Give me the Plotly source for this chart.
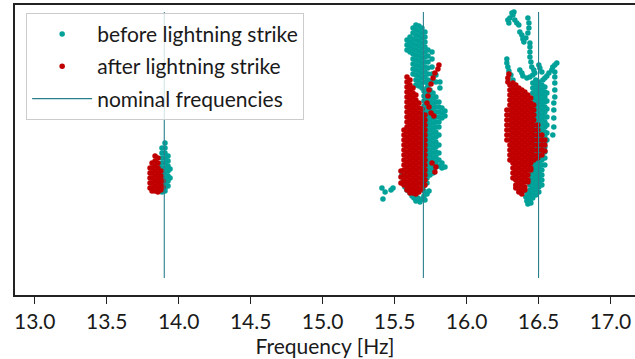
import plotly.graph_objects as go

# ---------------- data ----------------
# Frequencies in Hz, y in arbitrary units (axis hidden in the original)
nominal_freqs = [13.9, 15.7, 16.5]
nominal_y_span = [8.5, 141.5]

# "before lightning strike" columns: (frequency, [y values])
before_139_cols = [
    (13.864, [64, 60, 56.5, 53]),
    (13.884, [73.5, 71, 68.5, 66, 63.5, 61, 58.5, 56, 53.5, 51.5]),
    (13.905, [76, 73.5, 71, 68.5, 66, 63.5, 61, 58.5, 56, 53.5, 52]),
    (13.926, [69.5, 67, 64.5, 62, 59.5, 57, 54.5]),
    (13.940, [63, 58.5]),
]
before_157_cols = [
    (15.586, [127.5, 125, 122.5]),
    (15.607, [129, 126.5, 124, 121.5]),
    (15.628, [133.5, 131, 128, 125.5, 123, 120.5, 118, 115.5, 113, 110.5]),
    (15.648, [135, 132.5, 130, 127.5, 125, 122.5, 120, 117.5, 115, 112.5, 110, 107.5, 105]),
    (15.669, [134.5, 132, 129.5, 127, 124.5, 122, 119.5, 117, 114.5, 112, 109.5, 107, 104.5]),
    (15.690, [133.5, 131, 128.5, 126, 123.5, 121, 118.5, 116, 113.5, 111, 108.5, 106, 103.5]),
    (15.711, [131.5, 129, 126.5, 124, 121.5, 119, 116.5, 114, 111.5, 109, 106.5]),
    (15.732, [122.5, 119.5, 116.5, 113.5, 110.5, 107.5, 105]),
    (15.760, [121.5, 118, 114, 110.5, 107]),
    (15.787, [110, 106.5]),
    (15.815, [106.5, 103.5]),
    (15.704, [102, 99.5, 97, 94.5, 92, 89.5, 87, 84.5, 82, 79.5, 77, 74.5, 72, 69.5, 67, 64.5,
              62, 59.5, 57, 54.5, 52, 49.5]),
    (15.725, [103.5, 101, 98.5, 96, 93.5, 91, 88.5, 86, 83.5, 81, 78.5, 76, 73.5, 71, 68.5, 66,
              63.5, 61, 58.5, 56]),
    (15.746, [102.5, 100, 97.5, 95, 92.5, 90, 87.5, 85, 82.5, 80, 77.5, 75, 72.5, 70, 67.5, 65,
              62.5, 60]),
    (15.767, [101, 98.5, 96, 93.5, 91, 88.5, 86, 83.5, 81, 78.5, 76, 73.5, 71, 68.5, 66, 63.5, 61]),
    (15.787, [99, 96.5, 94, 91.5, 89, 86.5, 84, 81.5, 79, 76.5, 74, 71.5, 69, 66.5, 64]),
    (15.808, [96.5, 94, 91.5, 89, 86.5, 84, 80, 75, 71, 67.5, 64.5]),
    (15.829, [93.5, 91, 88.5, 66, 63.5]),
    (15.850, [92, 89.5, 64]),
]
before_157_pts = [
    (15.551, 60), (15.558, 56.5), (15.572, 54), (15.586, 52.5), (15.600, 55), (15.607, 51),
    (15.621, 49.5), (15.635, 48.5), (15.648, 47), (15.662, 48.5), (15.676, 46.5), (15.690, 48),
    (15.711, 47.5), (15.725, 50.5), (15.739, 52),
    (15.412, 53.5), (15.434, 51.5), (15.475, 52.5), (15.489, 53.5), (15.419, 48),
]
before_165_cols = [
    (16.440, [72.5, 70, 67.5, 65, 62.5, 60, 57.5, 55, 52.5, 50, 47.5]),
    (16.460, [106, 103.5, 101, 98.5, 96, 93.5, 91, 88.5, 86, 83.5, 81, 78.5, 76, 73.5, 71, 68.5,
              66, 63.5, 61, 58.5, 56, 53.5, 51, 48.5]),
    (16.481, [107.5, 105, 102.5, 100, 97.5, 95, 92.5, 90, 87.5, 85, 82.5, 80, 77.5, 75, 72.5, 70,
              67.5, 65, 62.5, 60, 57.5, 55, 52.5, 50]),
    (16.502, [106.5, 104, 101.5, 99, 96.5, 94, 91.5, 89, 86.5, 84, 81.5, 79, 76.5, 74, 71.5, 69,
              66.5, 64, 61.5, 59, 56.5, 54, 51.5]),
    (16.523, [105, 102.5, 100, 97.5, 95, 92.5, 90, 87.5, 85, 82.5, 80, 77.5, 75, 72.5, 70, 67.5,
              65, 62.5, 60, 57.5, 55]),
    (16.544, [104, 101.5, 99, 96.5, 94, 91.5, 89, 86.5, 84, 81.5, 79, 76.5, 74, 71.5, 68.5, 65]),
    (16.558, [101, 97, 93, 89, 85, 81, 77.5]),
]
before_165_pts = [
    (16.301, 138.5), (16.315, 141), (16.329, 141.5), (16.322, 140), (16.287, 137.5),
    (16.294, 136), (16.335, 137.5), (16.349, 136), (16.363, 135), (16.370, 131.5),
    (16.384, 130), (16.391, 128), (16.398, 126.5), (16.412, 128.5), (16.426, 131),
    (16.433, 133.5), (16.433, 136), (16.426, 138.5), (16.440, 126), (16.440, 124),
    (16.440, 121.5), (16.440, 119), (16.447, 116.5), (16.453, 114), (16.467, 112.5),
    (16.474, 111),
    (16.280, 118), (16.280, 116), (16.287, 114), (16.294, 112), (16.308, 110), (16.322, 107.5),
    (16.370, 112.5), (16.384, 111), (16.391, 109.5), (16.419, 108.5), (16.440, 109), (16.460, 110),
    (16.627, 116), (16.613, 115), (16.599, 114), (16.592, 112.5), (16.572, 111), (16.558, 109.5),
    (16.544, 108.5), (16.530, 107.5), (16.613, 111.5), (16.613, 109), (16.613, 106),
    (16.613, 102.5), (16.613, 99), (16.606, 96), (16.606, 92.5), (16.606, 88.5), (16.606, 84),
    (16.599, 80),
    (16.502, 115), (16.509, 113.5), (16.523, 111.5),
    (16.405, 52), (16.412, 49), (16.419, 47), (16.426, 45.5), (16.433, 48), (16.447, 46),
    (16.426, 50.5),
]

# "after lightning strike" columns
after_139_cols = [
    (13.801, [63.5, 61, 58.5, 56, 53.5]),
    (13.815, [66, 63.5, 61, 58.5, 56, 53.5, 52]),
    (13.836, [69.5, 67, 64.5, 62, 59.5, 57, 54.5, 52]),
    (13.856, [68.5, 66, 63.5, 61, 58.5, 56, 53.5, 51.5]),
    (13.877, [62, 59.5, 57, 54.5, 52.5]),
    (13.890, [57, 54]),
]
after_157_cols = [
    (15.544, [62, 59, 56]),
    (15.565, [82.5, 80, 77.5, 75, 72.5, 70, 67.5, 65, 62.5, 60, 57.5, 55]),
    (15.586, [109, 106.5, 104, 101.5, 99, 96.5, 94, 91.5, 89, 86.5, 84, 81.5, 79, 76.5, 74, 71.5,
              69, 66.5, 64, 61.5, 59, 56.5, 54, 52.5]),
    (15.607, [107.5, 105, 102.5, 100, 97.5, 95, 92.5, 90, 87.5, 85, 82.5, 80, 77.5, 75, 72.5, 70,
              67.5, 65, 62.5, 60, 57.5, 55, 52.5, 51]),
    (15.628, [103.5, 101, 98.5, 96, 93.5, 91, 88.5, 86, 83.5, 81, 78.5, 76, 73.5, 71, 68.5, 66,
              63.5, 61, 58.5, 56, 53.5, 51]),
    (15.648, [100, 97.5, 95, 92.5, 90, 87.5, 85, 82.5, 80, 77.5, 75, 72.5, 70, 67.5, 65, 62.5, 60,
              57.5, 55, 52.5, 50.5]),
    (15.669, [96, 93.5, 91, 88.5, 86, 83.5, 81, 78.5, 76, 73.5, 71, 68.5, 66, 63.5, 61, 58.5, 56,
              53.5, 51.5]),
    (15.690, [93, 90.5, 88, 85.5, 83, 80.5, 78, 75.5, 73, 70.5, 68, 65.5, 63, 60.5, 58, 55.5, 53]),
    (15.711, [90, 87.5, 85, 82.5, 80, 77.5, 75, 72.5, 70, 67.5, 65, 62.5, 60, 57.5, 55]),
]
after_157_pts = [
    (15.808, 115), (15.801, 113), (15.780, 111), (15.767, 108.5), (15.753, 105.5),
    (15.739, 102.5), (15.732, 99.5), (15.725, 96),
    (15.753, 91), (15.773, 89.5), (15.787, 64), (15.780, 61.5), (15.760, 66), (15.739, 94),
]
after_165_cols = [
    (16.280, [92.5, 90, 87.5, 85, 82.5, 80, 77.5]),
    (16.301, [105, 102.5, 100, 97.5, 95, 92.5, 90, 87.5, 85, 82.5, 80, 77.5, 75, 72.5, 70, 67.5]),
    (16.322, [106, 103.5, 101, 98.5, 96, 93.5, 91, 88.5, 86, 83.5, 81, 78.5, 76, 73.5, 71, 68.5,
              66, 63.5, 61, 58.5]),
    (16.342, [105, 102.5, 100, 97.5, 95, 92.5, 90, 87.5, 85, 82.5, 80, 77.5, 75, 72.5, 70, 67.5,
              65, 62.5, 60, 57.5, 55, 53.5]),
    (16.363, [103.5, 101, 98.5, 96, 93.5, 91, 88.5, 86, 83.5, 81, 78.5, 76, 73.5, 71, 68.5, 66,
              63.5, 61, 58.5, 56, 53.5, 51.5]),
    (16.384, [102.5, 100, 97.5, 95, 92.5, 90, 87.5, 85, 82.5, 80, 77.5, 75, 72.5, 70, 67.5, 65,
              62.5, 60, 57.5, 55, 52.5, 50.5]),
    (16.405, [101.5, 99, 96.5, 94, 91.5, 89, 86.5, 84, 81.5, 79, 76.5, 74, 71.5, 69, 66.5, 64,
              61.5, 59, 56.5, 54, 52.5]),
    (16.426, [100, 97.5, 95, 92.5, 90, 87.5, 85, 82.5, 80, 77.5, 75, 72.5, 70, 67.5, 65, 62.5, 60,
              57.5, 56.5]),
    (16.446, [98.5, 96, 93.5, 91, 88.5, 86, 83.5, 81, 78.5, 76, 73.5, 71, 68.5, 66, 63.5, 62.5]),
    (16.467, [95, 92.5, 90, 87.5, 85, 82.5, 80, 77.5, 75, 72.5, 70, 67.5]),
    (16.495, [85, 82.5, 80, 77.5, 75, 72.5, 70, 68.5]),
    (16.523, [80, 77.5, 75, 72.5, 70]),
    (16.544, [77.5, 75, 72]),
]
after_165_pts = [(16.287, 108.5), (16.287, 106.5), (16.294, 110.5)]

TEAL = "#00a199"
RED = "#c00000"
LINE = "#2b7f8c"
FONT = "Lato"


def gather(cols_list, pts_list):
    xs, ys = [], []
    for cols in cols_list:
        for f, yv in cols:
            for v in yv:
                xs.append(f)
                ys.append(v)
    for pts in pts_list:
        for f, v in pts:
            xs.append(f)
            ys.append(v)
    return xs, ys


bx, by = gather([before_139_cols, before_157_cols, before_165_cols], [before_157_pts, before_165_pts])
ax, ay = gather([after_139_cols, after_157_cols, after_165_cols], [after_157_pts, after_165_pts])

lx, ly = [], []
for f in nominal_freqs:
    lx += [f, f, None]
    ly += [nominal_y_span[0], nominal_y_span[1], None]

fig = go.Figure()
fig.add_trace(go.Scatter(x=bx, y=by, mode="markers", name="before lightning strike",
                         marker=dict(color=TEAL, size=5.5, line=dict(width=0)),
                         legendgroup="a"))
fig.add_trace(go.Scatter(x=ax, y=ay, mode="markers", name="after lightning strike",
                         marker=dict(color=RED, size=5.5, line=dict(width=0)),
                         legendgroup="b"))
fig.add_trace(go.Scatter(x=lx, y=ly, mode="lines", name="nominal frequencies",
                         line=dict(color=LINE, width=1.1), legendgroup="c"))

fig.update_layout(
    width=635, height=359,
    margin=dict(l=15, r=0, t=5, b=64),
    paper_bgcolor="white", plot_bgcolor="white",
    font=dict(family=FONT, size=21, color="#1a1a1a"),
    showlegend=True,
    legend=dict(x=0.018, y=0.973, xanchor="left", yanchor="top",
                bgcolor="rgba(255,255,255,0.8)", bordercolor="#cccccc", borderwidth=1,
                font=dict(family=FONT, size=21, color="#1a1a1a"),
                traceorder="grouped", tracegroupgap=2, itemwidth=60),
)
fig.update_xaxes(
    range=[12.863, 17.17],
    tickvals=[13.0, 13.5, 14.0, 14.5, 15.0, 15.5, 16.0, 16.5, 17.0],
    ticktext=["13.0", "13.5", "14.0", "14.5", "15.0", "15.5", "16.0", "16.5", "17.0"],
    ticks="outside", ticklen=7, tickwidth=1.3, tickcolor="#222",
    showline=True, linecolor="#222", linewidth=1.5, mirror=True,
    showgrid=False, zeroline=False,
    tickfont=dict(family=FONT, size=21, color="#1a1a1a"),
    title=dict(text="Frequency [Hz]", font=dict(family=FONT, size=21, color="#1a1a1a"), standoff=5),
)
fig.update_yaxes(
    range=[0, 145], showticklabels=False, ticks="",
    showline=True, linecolor="#222", linewidth=1.5, mirror=False,
    showgrid=False, zeroline=False,
)

fig.write_html("out.html")
